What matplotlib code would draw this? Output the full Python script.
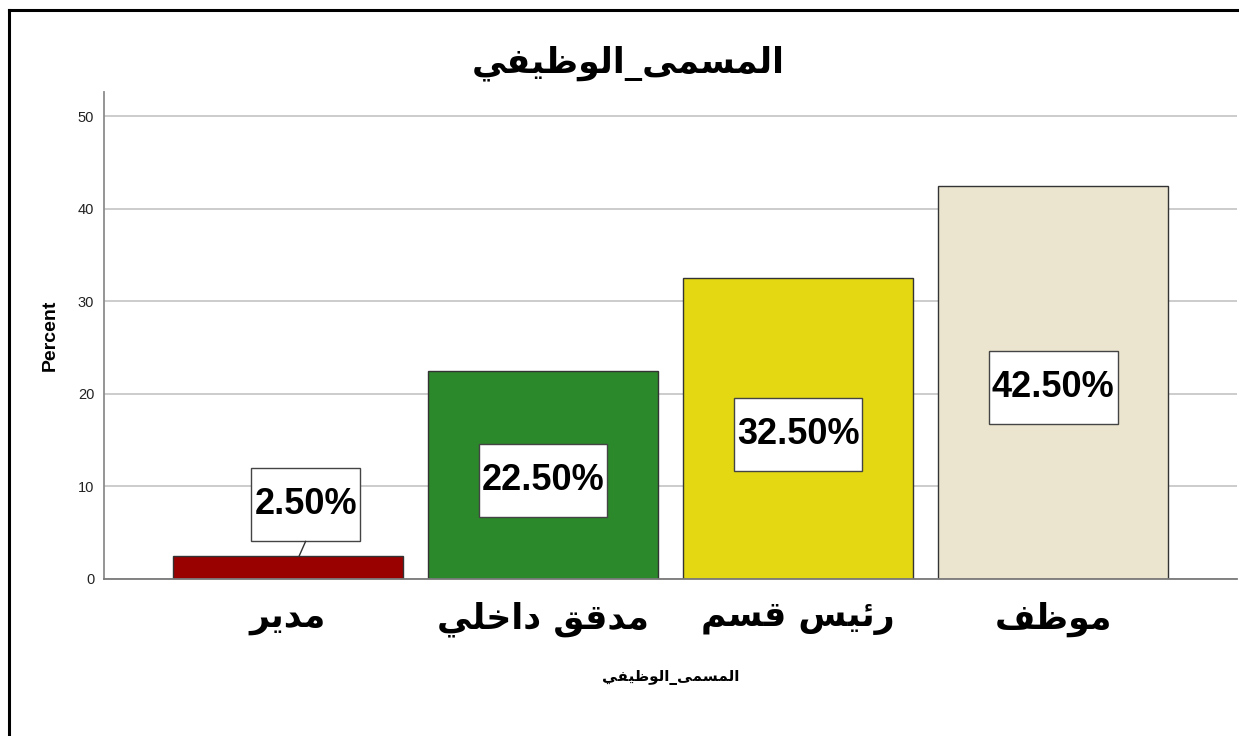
"""Bar chart of job titles (percent) with boxed value labels."""

import matplotlib

matplotlib.use("Agg")
import matplotlib.pyplot as plt
from matplotlib.lines import Line2D
from matplotlib.patches import Rectangle


TITLE = "المسمى_الوظيفي"
CATEGORIES = ["مدير", "مدقق داخلي", "رئيس قسم", "موظف"]
PERCENTS = [2.5, 22.5, 32.5, 42.5]
COLORS = ["#990000", "#2B882B", "#E3D811", "#EBE4CF"]
Y_TICKS = [0, 10, 20, 30, 40, 50]

# isolated, final, initial, medial (None = does not join to the next letter)
FORMS = {
    "ا": ("\uFE8D", "\uFE8E", None, None),
    "د": ("\uFEA9", "\uFEAA", None, None),
    "ر": ("\uFEAD", "\uFEAE", None, None),
    "و": ("\uFEED", "\uFEEE", None, None),
    "ى": ("\uFEEF", "\uFEF0", None, None),
    "ل": ("\uFEDD", "\uFEDE", "\uFEDF", "\uFEE0"),
    "م": ("\uFEE1", "\uFEE2", "\uFEE3", "\uFEE4"),
    "س": ("\uFEB1", "\uFEB2", "\uFEB3", "\uFEB4"),
    "ظ": ("\uFEC5", "\uFEC6", "\uFEC7", "\uFEC8"),
    "ي": ("\uFEF1", "\uFEF2", "\uFEF3", "\uFEF4"),
    "ف": ("\uFED1", "\uFED2", "\uFED3", "\uFED4"),
    "ق": ("\uFED5", "\uFED6", "\uFED7", "\uFED8"),
    "خ": ("\uFEA5", "\uFEA6", "\uFEA7", "\uFEA8"),
    "ئ": ("\uFE89", "\uFE8A", "\uFE8B", "\uFE8C"),
}


def shape_arabic(text: str) -> str:
    """Contextual forms + visual (right-to-left) order for matplotlib."""
    out = []
    for i, ch in enumerate(text):
        if ch not in FORMS:
            out.append(ch)
            continue
        prev = text[i - 1] if i > 0 else ""
        nxt = text[i + 1] if i + 1 < len(text) else ""
        joins_prev = prev in FORMS and FORMS[prev][2] is not None
        joins_next = FORMS[ch][2] is not None and nxt in FORMS
        iso, fin, ini, med = FORMS[ch]
        if joins_prev and joins_next:
            out.append(med)
        elif joins_prev:
            out.append(fin)
        elif joins_next:
            out.append(ini)
        else:
            out.append(iso)
    return "".join(reversed(out))


W, H = 1239, 736
fig = plt.figure(figsize=(W / 100, H / 100), dpi=100)
ax = fig.add_axes([104 / W, 1 - 579 / H, (1237 - 104) / W, (579 - 92) / H])

x = list(range(len(CATEGORIES)))
ax.bar(x, PERCENTS, width=0.9, color=COLORS, edgecolor="#333333", linewidth=1.0, zorder=2)

ax.set_xlim(-0.72, len(CATEGORIES) - 1 + 0.72)
ax.set_ylim(0, 52.6)
ax.set_yticks(Y_TICKS)
ax.set_yticklabels([str(t) for t in Y_TICKS], fontsize=10.5, family="Liberation Sans", color="#222222")
ax.set_xticks(x)
ax.set_xticklabels([shape_arabic(c) for c in CATEGORIES], fontsize=25, weight="bold",
                   family="DejaVu Sans")
ax.tick_params(axis="y", length=0, pad=7)
ax.tick_params(axis="x", length=0, pad=16)
ax.yaxis.grid(True, color="#C4C4C4", linewidth=1.2, zorder=0)
ax.set_axisbelow(True)
for side in ("top", "right"):
    ax.spines[side].set_visible(False)
ax.spines["left"].set_color("#8C8C8C")
ax.spines["left"].set_linewidth(1.3)
ax.spines["bottom"].set_color("#7A7A7A")
ax.spines["bottom"].set_linewidth(1.3)

ax.set_ylabel("Percent", fontsize=14, weight="bold", family="Liberation Sans", labelpad=14)
ax.set_xlabel(shape_arabic(TITLE), fontsize=11, weight="bold", family="DejaVu Sans", labelpad=24)

fig.text(628 / W, 1 - 63 / H, shape_arabic(TITLE), ha="center", va="center",
         fontsize=25, weight="bold", family="DejaVu Sans")

# boxed value labels
fig.canvas.draw()
inv = ax.transData.inverted()
for xi, v in zip(x, PERCENTS):
    small = v < 8
    y_lab = v + 5.5 if small else v / 2 - 0.6
    xl = xi + 0.07 if small else xi
    t = ax.text(xl, y_lab, f"{v:.2f}%", ha="center", va="center", fontsize=26,
                weight="bold", family="Liberation Sans", color="black", zorder=5)
    bb = t.get_window_extent(renderer=fig.canvas.get_renderer())
    (x0, _), (x1, _) = inv.transform([(bb.x0 - 3, 0), (bb.x1 + 3, 0)])
    cy = ax.transData.transform((xl, y_lab))[1]
    _, y0 = inv.transform((0, cy - 36.5))
    _, y1 = inv.transform((0, cy + 36.5))
    ax.add_patch(Rectangle((x0, y0), x1 - x0, y1 - y0, facecolor="white",
                           edgecolor="#444444", linewidth=1.0, zorder=4))
    if small:
        ax.plot([xi + 0.045, xl], [v, y0], color="#333333", linewidth=1.0, zorder=4)

# outer frame of the output window
fig.add_artist(Line2D([9 / W, 1], [1 - 10 / H, 1 - 10 / H], color="black", linewidth=2.2))
fig.add_artist(Line2D([9 / W, 9 / W], [0, 1 - 10 / H], color="black", linewidth=2.2))

fig.savefig("out.png", dpi=100)
